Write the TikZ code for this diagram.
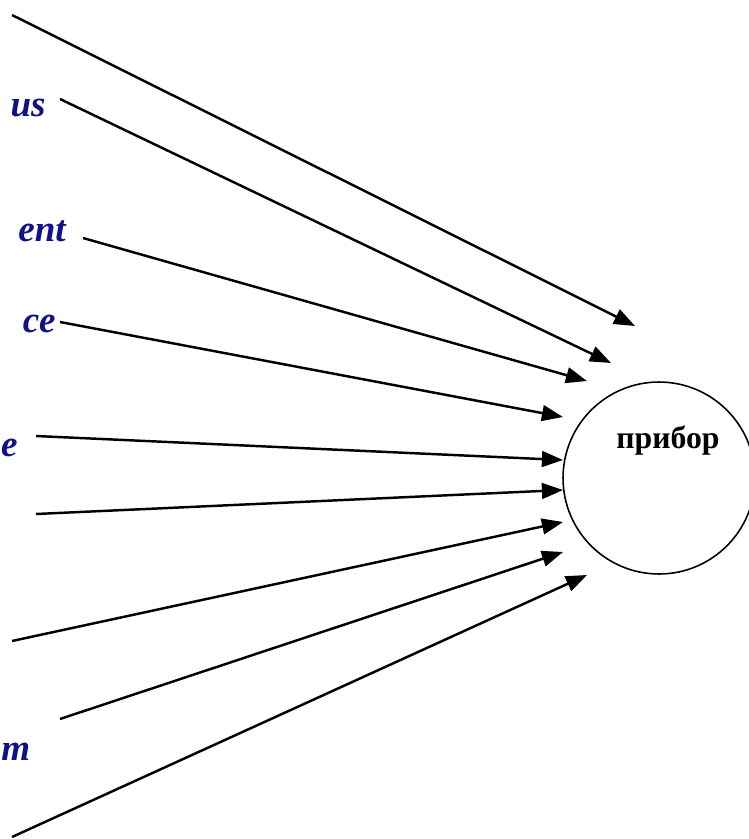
\documentclass[tikz,border=0pt]{standalone}
\usepackage{fontspec}
\setmainfont{Liberation Serif}
\usetikzlibrary{arrows.meta}
\definecolor{labelblue}{RGB}{16,16,135}
\begin{document}
\begin{tikzpicture}[x=0.02cm,y=-0.02cm,
  every node/.style={font=\fontsize{18bp}{21bp}\selectfont,inner sep=0pt},
  inword/.style={text=labelblue,font=\fontsize{21bp}{24bp}\selectfont\bfseries\itshape,anchor=base east},
  feed/.style={line width=1.4pt,-{Triangle[length=12pt,width=9pt]}}]
\useasboundingbox (0,0) rectangle (748,839);
% the device
\node[draw,circle,line width=0.9pt,minimum size=3.84cm] (dev) at (659,478) {};
\node[font=\fontsize{18bp}{21bp}\selectfont\bfseries] (devname) at (668,441) {прибор};
% words cut off at the left edge
\node[inword] (w1) at (46,116) {us};
\node[inword] (w2) at (66,241) {ent};
\node[inword] (w3) at (56,332) {ce};
\node[inword] (w4) at (18,456) {e};
\node[inword,anchor=base west] (w5) at (1,760) {m};
% arrows into the device
\foreach \i/\sx/\sy/\ex/\ey in {1/12/15/635/326, 2/60/99/611/363, 3/83/238/587/381,
    4/60/322/563/417, 5/36/436/563/460, 6/36/514/563/490, 7/12/641/563/522,
    8/60/719/563/552, 9/12/837/587/575}{
  \coordinate (s\i) at (\sx,\sy);
  \coordinate (e\i) at (\ex,\ey);
  \draw[feed] (s\i) -- (e\i);
}
\end{tikzpicture}
\end{document}
